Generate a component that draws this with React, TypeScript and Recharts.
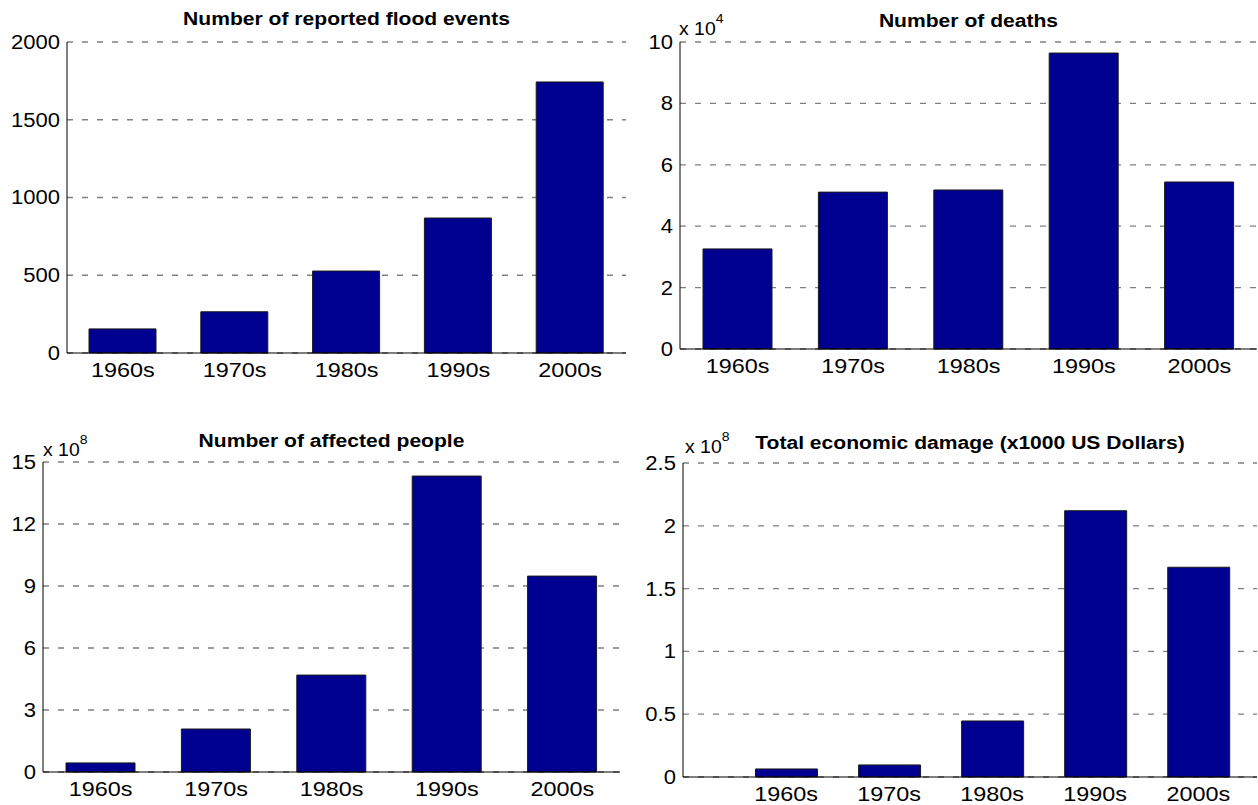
import React from 'react';
import { BarChart, Bar, XAxis, YAxis, CartesianGrid } from 'recharts';

// decade categories shared by all four panels
const decades = ['1960s', '1970s', '1980s', '1990s', '2000s'];

// values per decade
const floodEvents = [155, 265, 527, 868, 1743];
const deaths = [32600, 51100, 51800, 96400, 54400];
const affectedPeople = [0.44e8, 2.08e8, 4.69e8, 14.32e8, 9.48e8];
const economicDamage = [0.064e8, 0.096e8, 0.446e8, 2.12e8, 1.67e8];

// y-axis ticks
const floodTicks = [0, 500, 1000, 1500, 2000];
const deathTicks = [0, 2e4, 4e4, 6e4, 8e4, 10e4];
const affectedTicks = [0, 3e8, 6e8, 9e8, 12e8, 15e8];
const damageTicks = [0, 0.5e8, 1e8, 1.5e8, 2e8, 2.5e8];

const FONT = "'Liberation Sans', Arial, Helvetica, sans-serif";
const BAR_FILL = '#000090';

const toRows = (values: number[]) => values.map((v, i) => ({ pos: i + 1, decade: decades[i], value: v }));

const XTick = ({ x, y, payload }: any) => (
  <g transform={`translate(${x},${y})`}>
    <text transform="scale(1.2,1)" textAnchor="middle" dy="0.71em" fontSize={19.5} fill="#000">
      {decades[payload.value - 1]}
    </text>
  </g>
);

const makeYTick = (divisor: number) => ({ x, y, payload }: any) => (
  <g transform={`translate(${x},${y})`}>
    <text transform="scale(1.13,1)" textAnchor="end" dy="0.355em" fontSize={19.5} fill="#000">
      {String(payload.value / divisor)}
    </text>
  </g>
);

interface PanelProps {
  values: number[];
  ticks: number[];
  divisor: number;
  xDomain: [number, number];
  left: number;
  top: number;
  width: number;
  height: number;
  marginTop: number;
  marginRight: number;
  yWidth: number;
  xHeight: number;
}

const Panel: React.FC<PanelProps> = ({ values, ticks, divisor, xDomain, left, top, width, height, marginTop, marginRight, yWidth, xHeight }) => {
  const plotWidth = width - yWidth - marginRight;
  const barSize = Math.round((0.6 * plotWidth) / (xDomain[1] - xDomain[0]));
  return (
    <div style={{ position: 'absolute', left, top, width, height }}>
      <BarChart width={width} height={height} data={toRows(values)} margin={{ top: marginTop, right: marginRight, left: 0, bottom: 0 }}>
        <CartesianGrid vertical={false} stroke="#808080" strokeWidth={1.3} strokeDasharray="6 9" />
        <XAxis
          dataKey="pos"
          type="number"
          domain={xDomain}
          allowDataOverflow
          ticks={[1, 2, 3, 4, 5]}
          interval={0}
          height={xHeight}
          tickLine={false}
          tickSize={0}
          tickMargin={10}
          tick={<XTick />}
          axisLine={{ stroke: '#000', strokeWidth: 1 }}
        />
        <YAxis
          type="number"
          domain={[ticks[0], ticks[ticks.length - 1]]}
          ticks={ticks}
          interval={0}
          width={yWidth}
          tickLine={false}
          tickSize={0}
          tickMargin={7}
          tick={makeYTick(divisor)}
          axisLine={{ stroke: '#000', strokeWidth: 1 }}
        />
        <Bar dataKey="value" fill={BAR_FILL} stroke="#1a1a1a" strokeWidth={1} barSize={barSize} isAnimationActive={false} />
      </BarChart>
    </div>
  );
};

const Title = ({ x, y, text }: { x: number; y: number; text: string }) => (
  <text transform={`translate(${x},${y}) scale(1.11,1)`} textAnchor="middle" fontSize={19} fontWeight="bold" fill="#000">
    {text}
  </text>
);

const Exponent = ({ x, y, power }: { x: number; y: number; power: number }) => (
  <g transform={`translate(${x},${y}) scale(1.08,1)`}>
    <text fontSize={18} fill="#000">
      x 10
      <tspan dy={-12} fontSize={13}>{power}</tspan>
    </text>
  </g>
);

export default function App() {
  return (
    <div style={{ position: 'absolute', left: 0, top: 0, width: 1258, height: 805, background: '#fff', fontFamily: FONT }}>
      <Panel values={floodEvents} ticks={floodTicks} divisor={1} xDomain={[0.5, 5.5]}
        left={0} top={0} width={640} height={400} marginTop={42} marginRight={14} yWidth={67} xHeight={47} />
      <Panel values={deaths} ticks={deathTicks} divisor={1e4} xDomain={[0.5, 5.5]}
        left={640} top={0} width={618} height={400} marginTop={42} marginRight={1} yWidth={40} xHeight={51} />
      <Panel values={affectedPeople} ticks={affectedTicks} divisor={1e8} xDomain={[0.5, 5.5]}
        left={0} top={420} width={640} height={385} marginTop={42} marginRight={20} yWidth={43} xHeight={33} />
      <Panel values={economicDamage} ticks={damageTicks} divisor={1e8} xDomain={[0, 5.57]}
        left={640} top={420} width={618} height={385} marginTop={43} marginRight={1} yWidth={43} xHeight={28} />

      <svg width={1258} height={805} style={{ position: 'absolute', left: 0, top: 0, pointerEvents: 'none' }}>
        <Title x={346.5} y={25} text="Number of reported flood events" />
        <Title x={968.5} y={27} text="Number of deaths" />
        <Title x={331.5} y={447} text="Number of affected people" />
        <Title x={970} y={449} text="Total economic damage (x1000 US Dollars)" />
        <Exponent x={679} y={35} power={4} />
        <Exponent x={43} y={456} power={8} />
        <Exponent x={685} y={453} power={8} />
      </svg>
    </div>
  );
}
